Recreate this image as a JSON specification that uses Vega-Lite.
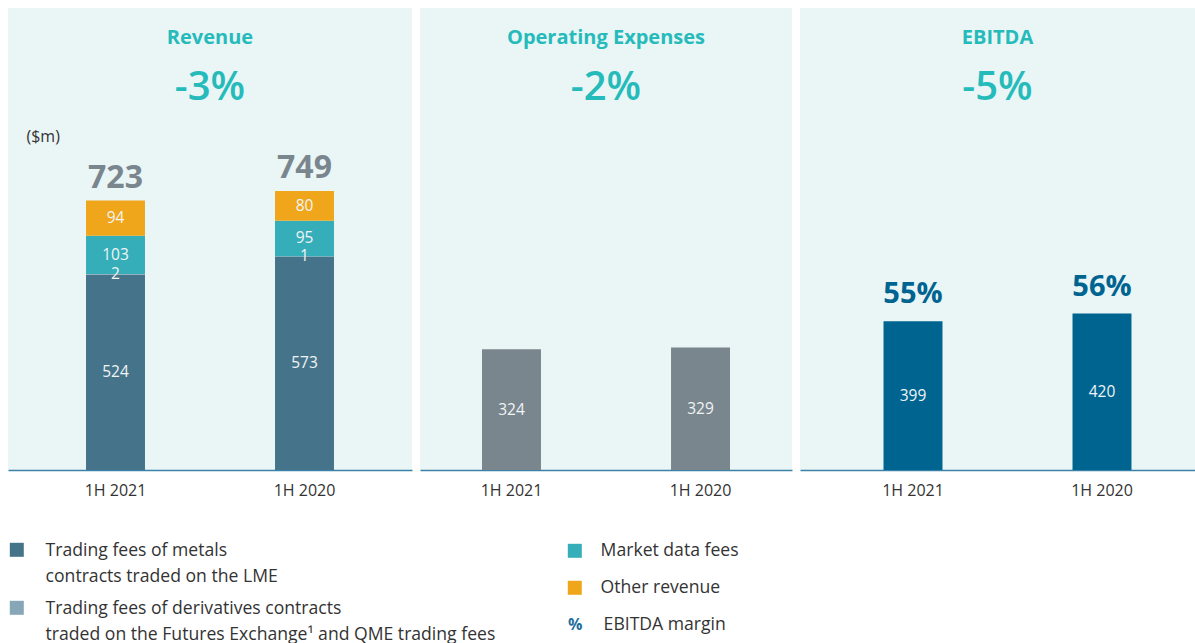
{
  "$schema": "https://vega.github.io/schema/vega-lite/v6.json",
  "padding": {"left": 8, "top": 8, "right": 0, "bottom": 0},
  "background": "white",
  "spacing": 8,
  "bounds": "flush",
  "config": {
    "font": "Open Sans",
    "view": {"stroke": null, "fill": "#EAF5F6"},
    "title": {"anchor": "middle", "frame": "group", "fontSize": 20, "fontWeight": "bold", "color": "#26BBBB", "subtitleFontSize": 40, "subtitleFontWeight": 600, "subtitleColor": "#26BBBB", "subtitlePadding": 20, "offset": -100, "font": "Open Sans", "subtitleFont": "Open Sans"},
    "axisX": {"domainColor": "#3C82A8", "domainWidth": 1.6, "ticks": false, "labelFontSize": 16, "labelColor": "#333333", "labelPadding": 12, "labelAngle": 0, "grid": false},
    "axisY": {"grid": false},
    "legend": {"labelFontSize": 17.6, "labelColor": "#333333", "padding": 0, "labelLimit": 700}
  },
  "datasets": {
    "revenue": [
      {"period": "1H 2021", "category": "Trading fees of metals contracts traded on the LME", "value": 524},
      {"period": "1H 2021", "category": "Trading fees of derivatives contracts traded on the Futures Exchange¹ and QME trading fees", "value": 2},
      {"period": "1H 2021", "category": "Market data fees", "value": 103},
      {"period": "1H 2021", "category": "Other revenue", "value": 94},
      {"period": "1H 2020", "category": "Trading fees of metals contracts traded on the LME", "value": 573},
      {"period": "1H 2020", "category": "Trading fees of derivatives contracts traded on the Futures Exchange¹ and QME trading fees", "value": 1},
      {"period": "1H 2020", "category": "Market data fees", "value": 95},
      {"period": "1H 2020", "category": "Other revenue", "value": 80}
    ],
    "opex": [
      {"period": "1H 2021", "value": 324},
      {"period": "1H 2020", "value": 329}
    ],
    "ebitda": [
      {"period": "1H 2021", "value": 399, "margin": 0.55, "measure": "EBITDA margin"},
      {"period": "1H 2020", "value": 420, "margin": 0.56, "measure": "EBITDA margin"}
    ]
  },
  "resolve": {"scale": {"color": "independent", "stroke": "independent", "x": "independent", "y": "independent"}, "legend": {"color": "independent", "stroke": "independent"}},
  "hconcat": [
    {
      "width": 404,
      "height": 462,
      "title": {"text": "Revenue", "subtitle": "-3%"},
      "data": {"name": "revenue"},
      "transform": [
        {"calculate": "indexof(['Trading fees of metals contracts traded on the LME', 'Trading fees of derivatives contracts traded on the Futures Exchange¹ and QME trading fees', 'Market data fees', 'Other revenue'], datum.category)", "as": "ord"},
        {"stack": "value", "groupby": ["period"], "sort": [{"field": "ord"}], "as": ["v0", "v1"]},
        {"calculate": "(datum.v0 + datum.v1) / 2", "as": "mid"}
      ],
      "encoding": {
        "x": {"field": "period", "type": "nominal", "sort": ["1H 2021", "1H 2020"], "title": null, "scale": {"paddingInner": 0.688, "paddingOuter": 0.4128}}
      },
      "layer": [
        {
          "mark": {"type": "bar", "strokeWidth": 0},
          "encoding": {
            "y": {"field": "v0", "type": "quantitative", "title": "($m)", "scale": {"domain": [0, 1240], "nice": false},
              "axis": {"labels": false, "ticks": false, "domain": false, "titleAngle": 0, "titleX": 18, "titleY": 128, "titleAlign": "left", "titleBaseline": "middle", "titleFontSize": 16, "titleFontWeight": "normal", "titleColor": "#333333", "titleFont": "Open Sans"}},
            "y2": {"field": "v1"},
            "color": {
              "field": "category", "type": "nominal",
              "scale": {"domain": ["Trading fees of metals contracts traded on the LME", "Trading fees of derivatives contracts traded on the Futures Exchange¹ and QME trading fees", "Market data fees", "Other revenue"], "range": ["#45748A", "#87A6B7", "#35AEBA", "#F0A61A"]},
              "legend": {
                "orient": "none", "legendX": 0, "legendY": 533, "title": null,
                "values": ["Trading fees of metals contracts traded on the LME", "Trading fees of derivatives contracts traded on the Futures Exchange¹ and QME trading fees"],
                "symbolType": "square", "symbolSize": 196, "symbolStrokeWidth": 0, "labelOffset": 20, "labelBaseline": "top", "rowPadding": 13,
                "labelExpr": "datum.label === 'Trading fees of metals contracts traded on the LME' ? ['Trading fees of metals', 'contracts traded on the LME'] : datum.label === 'Trading fees of derivatives contracts traded on the Futures Exchange¹ and QME trading fees' ? ['Trading fees of derivatives contracts', 'traded on the Futures Exchange¹ and QME trading fees'] : datum.label",
                "encode": {"labels": {"update": {"dy": {"value": -8}, "lineHeight": {"value": 26}}}}
              }
            },
            "stroke": {
              "field": "category", "type": "nominal",
              "scale": {"domain": ["Market data fees", "Other revenue"], "range": ["#35AEBA", "#F0A61A"]},
              "legend": {
                "orient": "none", "legendX": 558, "legendY": 534, "title": null,
                "symbolType": "square", "symbolSize": 49, "symbolStrokeWidth": 7, "symbolFillColor": "transparent", "labelOffset": 17, "rowPadding": 1,
                "encode": {"symbols": {"update": {"strokeWidth": {"value": 7}, "fill": {"value": "transparent"}}}}
              }
            }
          }
        },
        {
          "mark": {"type": "text", "fontSize": 15.5, "color": "#F0F4F5"},
          "encoding": {
            "y": {"field": "mid", "type": "quantitative", "title": "($m)"},
            "text": {"field": "value", "type": "quantitative"}
          }
        },
        {
          "transform": [{"aggregate": [{"op": "sum", "field": "value", "as": "total"}], "groupby": ["period"]}],
          "mark": {"type": "text", "fontSize": 32, "fontWeight": "bold", "color": "#7A868E", "baseline": "alphabetic", "dy": -13},
          "encoding": {
            "y": {"field": "total", "type": "quantitative", "title": "($m)"},
            "text": {"field": "total", "type": "quantitative"}
          }
        }
      ]
    },
    {
      "width": 372,
      "height": 462,
      "title": {"text": "Operating Expenses", "subtitle": "-2%"},
      "data": {"name": "opex"},
      "transform": [{"calculate": "datum.value / 2", "as": "mid"}],
      "encoding": {
        "x": {"field": "period", "type": "nominal", "sort": ["1H 2021", "1H 2020"], "title": null, "scale": {"paddingInner": 0.688, "paddingOuter": 0.328}}
      },
      "layer": [
        {
          "mark": {"type": "bar", "color": "#7A868E"},
          "encoding": {"y": {"field": "value", "type": "quantitative", "scale": {"domain": [0, 1240], "nice": false}, "axis": null}}
        },
        {
          "mark": {"type": "text", "fontSize": 15.5, "color": "#F0F4F5"},
          "encoding": {
            "y": {"field": "mid", "type": "quantitative", "axis": null},
            "text": {"field": "value", "type": "quantitative"}
          }
        }
      ]
    },
    {
      "width": 395,
      "height": 462,
      "title": {"text": "EBITDA", "subtitle": "-5%"},
      "data": {"name": "ebitda"},
      "transform": [{"calculate": "datum.value / 2", "as": "mid"}],
      "encoding": {
        "x": {"field": "period", "type": "nominal", "sort": ["1H 2021", "1H 2020"], "title": null, "scale": {"paddingInner": 0.688, "paddingOuter": 0.389, "align": 0.568}}
      },
      "layer": [
        {
          "mark": {"type": "bar", "color": "#006491"},
          "encoding": {"y": {"field": "value", "type": "quantitative", "scale": {"domain": [0, 1240], "nice": false}, "axis": null}}
        },
        {
          "mark": {"type": "text", "fontSize": 15.5, "color": "#F0F4F5"},
          "encoding": {
            "y": {"field": "mid", "type": "quantitative", "axis": null},
            "text": {"field": "value", "type": "quantitative"}
          }
        },
        {
          "mark": {"type": "text", "fontSize": 29, "fontWeight": "bold", "baseline": "alphabetic", "dy": -18},
          "encoding": {
            "y": {"field": "value", "type": "quantitative", "axis": null},
            "text": {"field": "margin", "type": "quantitative", "format": ".0%"},
            "color": {
              "field": "measure", "type": "nominal",
              "scale": {"range": ["#006491"]},
              "legend": {"orient": "none", "legendX": -232, "legendY": 608, "title": "%", "titleOrient": "left", "titleColor": "#1F6FA0", "titleFontSize": 16, "titleFontWeight": "bold", "titlePadding": 3, "titleFont": "Open Sans", "symbolSize": 0, "symbolOpacity": 0, "labelOffset": 0}
            }
          }
        }
      ]
    }
  ]
}
